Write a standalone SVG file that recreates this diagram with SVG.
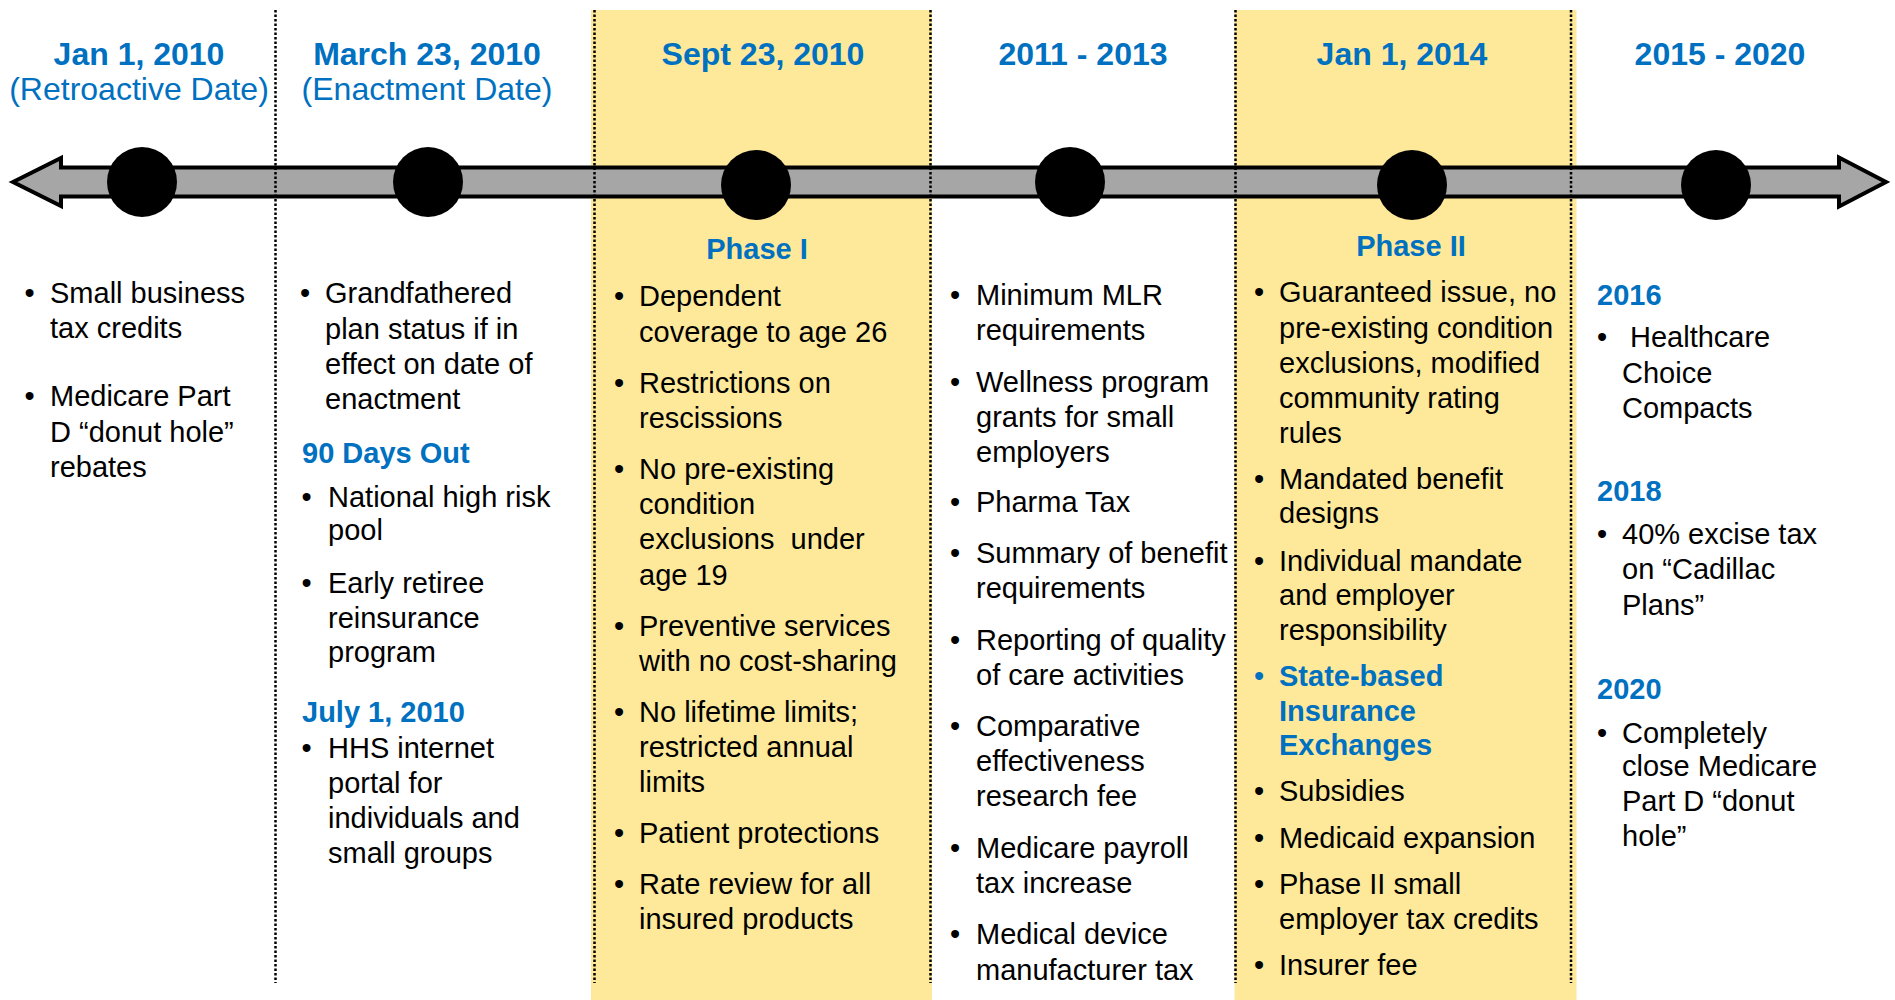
<svg xmlns="http://www.w3.org/2000/svg" width="1895" height="1000" viewBox="0 0 1895 1000">
<style>
  text { font-family: "Liberation Sans", Arial, sans-serif; }
  .date { font-size: 32px; font-weight: bold; fill: #0070C0; text-anchor: middle; }
  .sub { font-size: 32px; fill: #0070C0; text-anchor: middle; }
  .item { font-size: 29px; fill: #000; }
  .head { font-size: 29px; font-weight: bold; fill: #0070C0; }
  .phase { font-size: 29px; font-weight: bold; fill: #0070C0; text-anchor: middle; }
  .bul { font-size: 29px; fill: #000; text-anchor: middle; }
  .blue { fill: #0070C0; }
  .bold { font-weight: bold; }
  .band { fill: #FEE99A; }
  .divider { stroke: #000; stroke-width: 2.5; stroke-dasharray: 2.5 2; fill: none; }
  .dot { fill: #000; }
</style>

<rect x="0" y="0" width="1895" height="1000" fill="#FFFFFF"/>

<g id="bands">
  <rect class="band" x="591" y="10" width="341" height="990"/>
  <rect class="band" x="1234.5" y="10" width="342" height="990"/>
</g>

<g id="connectors">
  <path id="timeline-arrow" d="M13,182 L61,158 L61,167.5 L1839,167.5 L1839,157.5 L1886,182 L1839,206.5 L1839,196.5 L61,196.5 L61,206 Z" fill="#A6A6A6" stroke="#000" stroke-width="4" stroke-linejoin="miter"/>
</g>

<g id="dividers">
  <line class="divider" x1="275.5" y1="10" x2="275.5" y2="983"/>
  <line class="divider" x1="594.5" y1="10" x2="594.5" y2="983"/>
  <line class="divider" x1="930.5" y1="10" x2="930.5" y2="983"/>
  <line class="divider" x1="1235.5" y1="10" x2="1235.5" y2="983"/>
  <line class="divider" x1="1571" y1="10" x2="1571" y2="983"/>
</g>

<g id="node-jan-2010">
  <circle class="dot" cx="142" cy="182" r="35"/>
  <text class="date" x="139" y="65">Jan 1, 2010</text>
  <text class="sub" x="139" y="100">(Retroactive Date)</text>
  <text class="bul" x="29.5" y="303">•</text>
  <text class="item" x="50" y="303">Small business</text>
  <text class="item" x="50" y="338">tax credits</text>
  <text class="bul" x="29.5" y="406">•</text>
  <text class="item" x="50" y="406">Medicare Part</text>
  <text class="item" x="50" y="441.5">D “donut hole”</text>
  <text class="item" x="50" y="477">rebates</text>
</g>

<g id="node-march-2010">
  <circle class="dot" cx="428" cy="182" r="35"/>
  <text class="date" x="427" y="65">March 23, 2010</text>
  <text class="sub" x="427" y="100">(Enactment Date)</text>
  <text class="bul" x="305" y="303">•</text>
  <text class="item" x="325" y="303">Grandfathered</text>
  <text class="item" x="325" y="339">plan status if in</text>
  <text class="item" x="325" y="374">effect on date of</text>
  <text class="item" x="325" y="409">enactment</text>
  <text class="head" x="302" y="463">90 Days Out</text>
  <text class="bul" x="306.5" y="507">•</text>
  <text class="item" x="328" y="507">National high risk</text>
  <text class="item" x="328" y="540">pool</text>
  <text class="bul" x="306.5" y="593">•</text>
  <text class="item" x="328" y="593">Early retiree</text>
  <text class="item" x="328" y="628">reinsurance</text>
  <text class="item" x="328" y="662">program</text>
  <text class="head" x="302" y="722">July 1, 2010</text>
  <text class="bul" x="306.5" y="758">•</text>
  <text class="item" x="328" y="758">HHS internet</text>
  <text class="item" x="328" y="793">portal for</text>
  <text class="item" x="328" y="828">individuals and</text>
  <text class="item" x="328" y="863">small groups</text>
</g>

<g id="node-sept-2010">
  <circle class="dot" cx="756" cy="185" r="35"/>
  <text class="date" x="763" y="65">Sept 23, 2010</text>
  <text class="phase" x="757" y="259">Phase I</text>
  <text class="bul" x="619" y="306">•</text>
  <text class="item" x="639" y="306">Dependent</text>
  <text class="item" x="639" y="341.5">coverage to age 26</text>
  <text class="bul" x="619" y="392.5">•</text>
  <text class="item" x="639" y="392.5">Restrictions on</text>
  <text class="item" x="639" y="427.5">rescissions</text>
  <text class="bul" x="619" y="478.5">•</text>
  <text class="item" x="639" y="478.5">No pre-existing</text>
  <text class="item" x="639" y="513.5">condition</text>
  <text class="item" x="639" y="549" xml:space="preserve">exclusions  under</text>
  <text class="item" x="639" y="584.5">age 19</text>
  <text class="bul" x="619" y="635.5">•</text>
  <text class="item" x="639" y="635.5">Preventive services</text>
  <text class="item" x="639" y="670.5">with no cost-sharing</text>
  <text class="bul" x="619" y="721.5">•</text>
  <text class="item" x="639" y="721.5">No lifetime limits;</text>
  <text class="item" x="639" y="757">restricted annual</text>
  <text class="item" x="639" y="792">limits</text>
  <text class="bul" x="619" y="843">•</text>
  <text class="item" x="639" y="843">Patient protections</text>
  <text class="bul" x="619" y="894">•</text>
  <text class="item" x="639" y="894">Rate review for all</text>
  <text class="item" x="639" y="929">insured products</text>
</g>

<g id="node-2011-2013">
  <circle class="dot" cx="1070" cy="182" r="35"/>
  <text class="date" x="1083" y="65">2011 - 2013</text>
  <text class="bul" x="955" y="304.5">•</text>
  <text class="item" x="976" y="304.5">Minimum MLR</text>
  <text class="item" x="976" y="339.5">requirements</text>
  <text class="bul" x="955" y="391.5">•</text>
  <text class="item" x="976" y="391.5">Wellness program</text>
  <text class="item" x="976" y="426.5">grants for small</text>
  <text class="item" x="976" y="461.5">employers</text>
  <text class="bul" x="955" y="512">•</text>
  <text class="item" x="976" y="512">Pharma Tax</text>
  <text class="bul" x="955" y="563">•</text>
  <text class="item" x="976" y="563">Summary of benefit</text>
  <text class="item" x="976" y="598">requirements</text>
  <text class="bul" x="955" y="650">•</text>
  <text class="item" x="976" y="650">Reporting of quality</text>
  <text class="item" x="976" y="685">of care activities</text>
  <text class="bul" x="955" y="736">•</text>
  <text class="item" x="976" y="736">Comparative</text>
  <text class="item" x="976" y="771">effectiveness</text>
  <text class="item" x="976" y="806">research fee</text>
  <text class="bul" x="955" y="858">•</text>
  <text class="item" x="976" y="858">Medicare payroll</text>
  <text class="item" x="976" y="893">tax increase</text>
  <text class="bul" x="955" y="944">•</text>
  <text class="item" x="976" y="944">Medical device</text>
  <text class="item" x="976" y="979.5">manufacturer tax</text>
</g>

<g id="node-jan-2014">
  <circle class="dot" cx="1412" cy="185" r="35"/>
  <text class="date" x="1402" y="65">Jan 1, 2014</text>
  <text class="phase" x="1411" y="256">Phase II</text>
  <text class="bul" x="1259" y="302">•</text>
  <text class="item" x="1279" y="302">Guaranteed issue, no</text>
  <text class="item" x="1279" y="337.5">pre-existing condition</text>
  <text class="item" x="1279" y="372.5">exclusions, modified</text>
  <text class="item" x="1279" y="408">community rating</text>
  <text class="item" x="1279" y="443">rules</text>
  <text class="bul" x="1259" y="489">•</text>
  <text class="item" x="1279" y="489">Mandated benefit</text>
  <text class="item" x="1279" y="523">designs</text>
  <text class="bul" x="1259" y="571">•</text>
  <text class="item" x="1279" y="571">Individual mandate</text>
  <text class="item" x="1279" y="605">and employer</text>
  <text class="item" x="1279" y="640">responsibility</text>
  <text class="bul blue" x="1259" y="686">•</text>
  <text class="item blue bold" x="1279" y="686">State-based</text>
  <text class="item blue bold" x="1279" y="720.5">Insurance</text>
  <text class="item blue bold" x="1279" y="755">Exchanges</text>
  <text class="bul" x="1259" y="801">•</text>
  <text class="item" x="1279" y="801">Subsidies</text>
  <text class="bul" x="1259" y="848">•</text>
  <text class="item" x="1279" y="848">Medicaid expansion</text>
  <text class="bul" x="1259" y="894">•</text>
  <text class="item" x="1279" y="894">Phase II small</text>
  <text class="item" x="1279" y="929">employer tax credits</text>
  <text class="bul" x="1259" y="975">•</text>
  <text class="item" x="1279" y="975">Insurer fee</text>
</g>

<g id="node-2015-2020">
  <circle class="dot" cx="1716" cy="185" r="35"/>
  <text class="date" x="1720" y="65">2015 - 2020</text>
  <text class="head" x="1597" y="304.5">2016</text>
  <text class="bul" x="1602" y="347">•</text>
  <text class="item" x="1630" y="347">Healthcare</text>
  <text class="item" x="1622" y="382.5">Choice</text>
  <text class="item" x="1622" y="417.5">Compacts</text>
  <text class="head" x="1597" y="501">2018</text>
  <text class="bul" x="1602" y="543.5">•</text>
  <text class="item" x="1622" y="543.5">40% excise tax</text>
  <text class="item" x="1622" y="579">on “Cadillac</text>
  <text class="item" x="1622" y="614.5">Plans”</text>
  <text class="head" x="1597" y="698.5">2020</text>
  <text class="bul" x="1602" y="742.5">•</text>
  <text class="item" x="1622" y="742.5">Completely</text>
  <text class="item" x="1622" y="776">close Medicare</text>
  <text class="item" x="1622" y="811">Part D “donut</text>
  <text class="item" x="1622" y="846">hole”</text>
</g>
</svg>
